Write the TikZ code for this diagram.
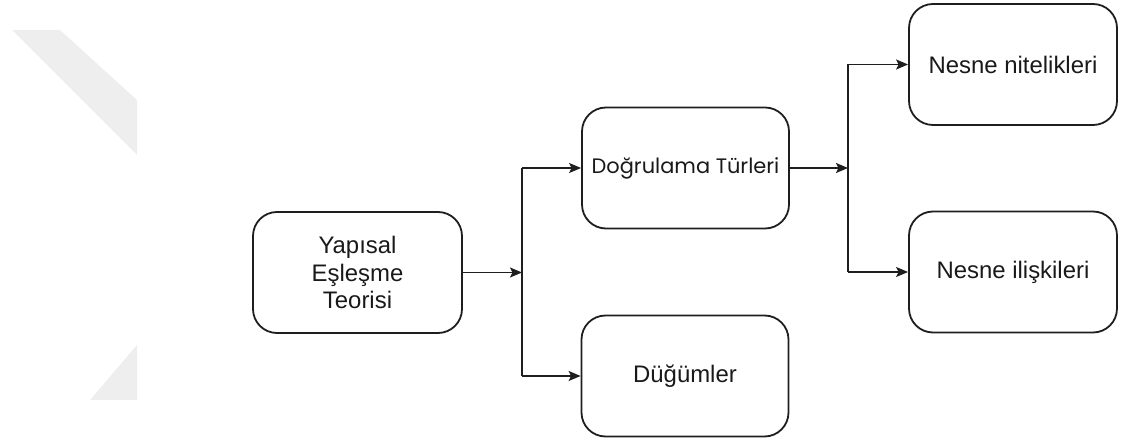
\documentclass[tikz,border=0pt]{standalone}
\usepackage{fontspec}
\setmainfont{Liberation Sans}
\newfontfamily\geofont{Poppins}
\usetikzlibrary{arrows.meta}
\definecolor{shadegray}{HTML}{EEEEEE}
\definecolor{edge}{HTML}{1E1E1E}
\tikzset{
  box/.style={draw=edge, line width=1.8bp, rounded corners=24bp,
    minimum width=207bp, minimum height=121bp, align=center,
    font=\fontsize{24}{28}\selectfont, inner sep=0pt, text=black!90},
  link/.style={draw=edge, line width=1.8bp},
  arr/.style={link, -{Stealth[length=12bp, width=10bp, inset=2.5bp]}}
}
\begin{document}
\begin{tikzpicture}[x=1bp, y=-1bp]
\useasboundingbox (0,0) rectangle (1121,443);
% faint background shapes
\fill[shadegray] (12,30) -- (60,30) -- (137,100) -- (137,155) -- cycle;
\fill[shadegray] (137,345) -- (137,400) -- (90,400) -- cycle;
% boxes
\node[box, minimum width=209bp] (yap) at (357.5,272.5) {Yapısal\\Eşleşme\\Teorisi};
\node[box, font=\geofont\fontsize{21}{28}\selectfont] (dog) at (685.5,168) {Doğrulama Türleri};
\node[box] (dug) at (685,376) {Düğümler};
\node[box, minimum width=208bp] (nit) at (1013,64.5) {Nesne nitelikleri};
\node[box, minimum width=208bp] (ili) at (1013,272) {Nesne ilişkileri};
% junctions
\coordinate (j1) at (522,272.5);
\coordinate (j2) at (848,168);
% connectors
\draw[arr] (yap.east) -- (j1);
\draw[link] (j1 |- dog.west) -- (j1 |- dug.west);
\draw[arr] (j1 |- dog.west) -- (dog.west);
\draw[arr] (j1 |- dug.west) -- (dug.west);
\draw[arr] (dog.east) -- (j2);
\draw[link] (j2 |- nit.west) -- (j2 |- ili.west);
\draw[arr] (j2 |- nit.west) -- (nit.west);
\draw[arr] (j2 |- ili.west) -- (ili.west);
\end{tikzpicture}
\end{document}
